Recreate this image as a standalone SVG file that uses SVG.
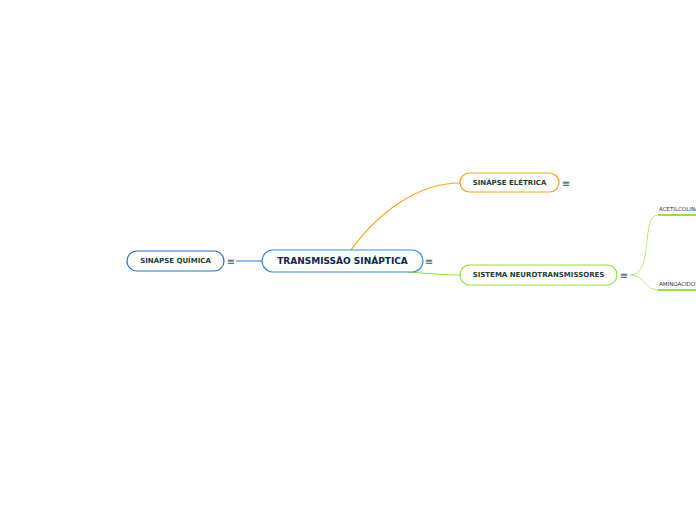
<svg xmlns="http://www.w3.org/2000/svg" width="696" height="520" viewBox="0 0 696 520">
<style>
.t{font-family:"DejaVu Sans",Verdana,sans-serif;font-weight:bold;fill:#1b3d35;text-anchor:middle;dominant-baseline:central}
.ic{font-family:"DejaVu Sans",sans-serif;font-size:10px;fill:#3a5a66;text-anchor:middle;dominant-baseline:central}
.s{font-family:"DejaVu Sans",sans-serif;font-size:5.5px;fill:#333;}
.box{fill:#fff;stroke-width:1.2}
</style>
<rect width="696" height="520" fill="#fff"/>
<g id="connectors" fill="none">
<path d="M236,261 H262" stroke="#2f6fe0" stroke-width="1"/>
<path d="M351,250 C380,210 420,183 460,183" stroke="#f5a623" stroke-width="1.2"/>
<path d="M400,271 C420,273 440,275 460,275" stroke="#8ee63a" stroke-width="1.2"/>
<path d="M630,275 C655,275 640,215 658,215" stroke="#b6f07a" stroke-width="1"/>
<path d="M630,275 C645,275 645,290 658,290" stroke="#b6f07a" stroke-width="1"/>
<path d="M658,215 H696" stroke="#8ee63a" stroke-width="2"/>
<path d="M658,290 H696" stroke="#8ee63a" stroke-width="2"/>
</g>
<g id="central">
<rect class="box" x="262" y="250" width="161" height="22" rx="11" stroke="#3d8fd6"/>
<text class="t" x="342.5" y="261" font-size="9" style="fill:#0f2748">TRANSMISSÃO SINÁPTICA</text>
<text class="ic" x="429" y="261">≡</text>
</g>
<g id="quimica">
<rect class="box" x="127" y="251" width="97" height="20" rx="10" stroke="#2f6fe0"/>
<text class="t" x="175.5" y="261" font-size="7">SINÁPSE QUÍMICA</text>
<text class="ic" x="231" y="261">≡</text>
</g>
<g id="eletrica">
<rect class="box" x="460" y="173" width="99" height="19" rx="9.5" stroke="#f5a623"/>
<text class="t" x="509.5" y="182.5" font-size="7">SINÁPSE ELÉTRICA</text>
<text class="ic" x="566" y="183">≡</text>
</g>
<g id="sistema">
<rect class="box" x="460" y="265" width="157" height="20" rx="10" stroke="#8ee63a"/>
<text class="t" x="538.5" y="275" font-size="7">SISTEMA NEUROTRANSMISSORES</text>
<text class="ic" x="624" y="275">≡</text>
</g>
<g id="acetilcolina">
<text class="s" x="659" y="211">ACETILCOLINA</text>
</g>
<g id="aminoacidos">
<text class="s" x="659" y="286">AMINOÁCIDOS</text>
</g>
</svg>
